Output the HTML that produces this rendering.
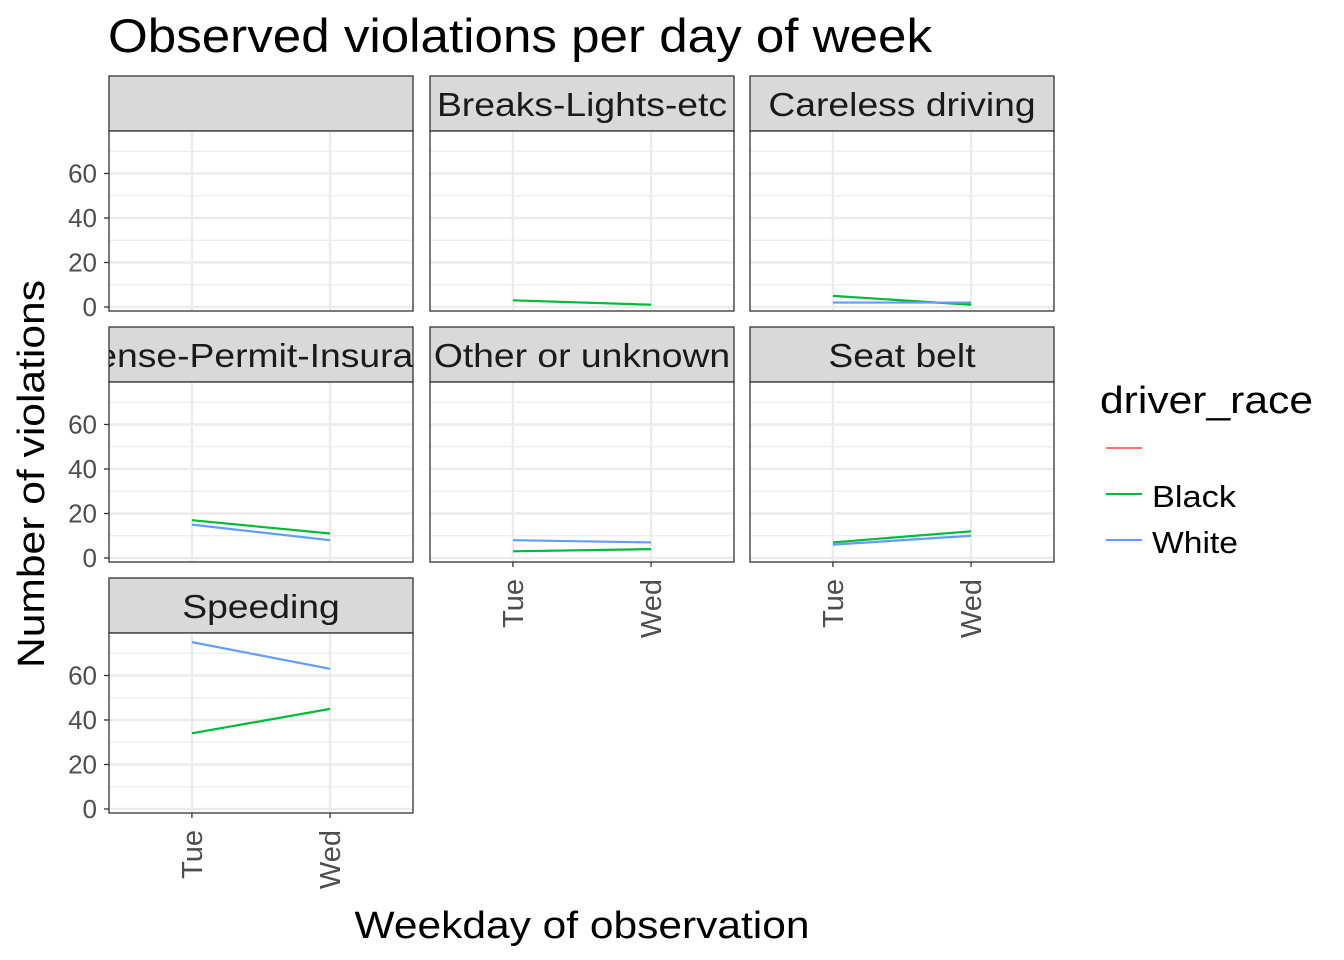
<!DOCTYPE html>
<html><head><meta charset="utf-8"><style>
body{margin:0;background:#fff}
svg{display:block;font-family:"Liberation Sans",Arial,sans-serif}
</style></head><body>
<svg id="c" width="1344" height="960" xmlns="http://www.w3.org/2000/svg">
<text x="108" y="52" font-size="47" textLength="824" lengthAdjust="spacingAndGlyphs" fill="#000">Observed violations per day of week</text>
<text transform="translate(44,474) rotate(-90)" text-anchor="middle" font-size="38" textLength="388" lengthAdjust="spacingAndGlyphs" fill="#000">Number of violations</text>
<text x="582" y="938" text-anchor="middle" font-size="38" textLength="455" lengthAdjust="spacingAndGlyphs" fill="#000">Weekday of observation</text>
<g>
<text x="1100" y="413" font-size="38" textLength="213" lengthAdjust="spacingAndGlyphs" fill="#000">driver_race</text>
<line x1="1106" x2="1142" y1="448" y2="448" stroke="#F8766D" stroke-width="2"/>
<line x1="1106" x2="1142" y1="494" y2="494" stroke="#00BA38" stroke-width="2"/>
<text x="1152" y="507" font-size="31" textLength="84" lengthAdjust="spacingAndGlyphs" fill="#000">Black</text>
<line x1="1106" x2="1142" y1="540" y2="540" stroke="#619CFF" stroke-width="2"/>
<text x="1152" y="553" font-size="31" textLength="86" lengthAdjust="spacingAndGlyphs" fill="#000">White</text>
</g>
</svg>
<script>
const panels = ["", "Breaks-Lights-etc", "Careless driving", "License-Permit-Insurance", "Other or unknown", "Seat belt", "Speeding"];
const days = ["Tue", "Wed"];
const blackVals = [null, [3,1], [5,1], [17,11], [3,4], [7,12], [34,45]];
const whiteVals = [null, null, [2,2], [15,8], [8,7], [6,10], [75,63]];
const yTicks = [0,20,40,60];
const yMinor = [10,30,50,70];

const svg = document.getElementById('c');
const NS = 'http://www.w3.org/2000/svg';
function mk(tag, attrs, parent){const e=document.createElementNS(NS,tag);for(const k in attrs)e.setAttribute(k,attrs[k]);(parent||svg).appendChild(e);return e;}
const colX=[109,430,750], W=304, stripTops=[76,327,578], PH=180, SH=55;
const defs=mk('defs',{});
panels.forEach((name,i)=>{
  const col=i%3,row=Math.floor(i/3);
  const x0=colX[col], st=stripTops[row], py=st+SH;
  const xs=d=>x0+(0.6+d)*W/2.2;
  const ys=v=>py+PH-(v+1.8)*2.225;
  const g=mk('g',{});
  
  
  const cp=mk('clipPath',{id:'cp'+i},defs);
  mk('rect',{x:x0,y:st,width:W,height:SH},cp);
  const sr=mk('rect',{x:x0,y:st,width:W,height:SH,fill:'#D9D9D9',stroke:'#333','stroke-width':1.3},g);
  
  
  const cg=mk('g',{'clip-path':'url(#cp'+i+')'},g);
  const stx=mk('text',{x:x0+W/2,y:st+40,'text-anchor':'middle','font-size':33,fill:'#1A1A1A',style:'transform-box:fill-box;transform-origin:center;transform:scaleX(1.13)'},cg);
  stx.textContent=name;
  
  
  mk('rect',{x:x0,y:py,width:W,height:PH,fill:'#fff'},g);
  yMinor.forEach(v=>mk('line',{x1:x0,x2:x0+W,y1:ys(v),y2:ys(v),stroke:'#EBEBEB','stroke-width':1.2},g));
  yTicks.forEach(v=>mk('line',{x1:x0,x2:x0+W,y1:ys(v),y2:ys(v),stroke:'#EBEBEB','stroke-width':2.4},g));
  days.forEach((d,k)=>mk('line',{x1:xs(k),x2:xs(k),y1:py,y2:py+PH,stroke:'#EBEBEB','stroke-width':2.4},g));
  [[blackVals[i],'#00BA38','black'],[whiteVals[i],'#619CFF','white']].forEach(([vals,c,n])=>{
    if(!vals)return;
    const l=mk('polyline',{points:vals.map((v,k)=>xs(k)+','+ys(v)).join(' '),fill:'none',stroke:c,'stroke-width':2.2},g);
    
    
  });
  mk('rect',{x:x0,y:py,width:W,height:PH,fill:'none',stroke:'#333','stroke-width':1.3},g);
  if(col===0){
    yTicks.forEach(v=>{
      mk('line',{x1:x0-5,x2:x0,y1:ys(v),y2:ys(v),stroke:'#333','stroke-width':1.3},g);
      const t=mk('text',{x:x0-12,y:ys(v)+9,'text-anchor':'end','font-size':26,fill:'#4D4D4D'},g);
      t.textContent=v;
      
      
    });
  }
  if(i>=4){
    days.forEach((d,k)=>{
      mk('line',{x1:xs(k),x2:xs(k),y1:py+PH,y2:py+PH+5,stroke:'#333','stroke-width':1.3},g);
      const t=mk('text',{transform:'translate('+(xs(k)+10)+','+(py+PH+17)+') rotate(-90)','text-anchor':'end','font-size':29,fill:'#4D4D4D'},g);
      t.textContent=d;
      
      
    });
  }
});
</script>
</body></html>
